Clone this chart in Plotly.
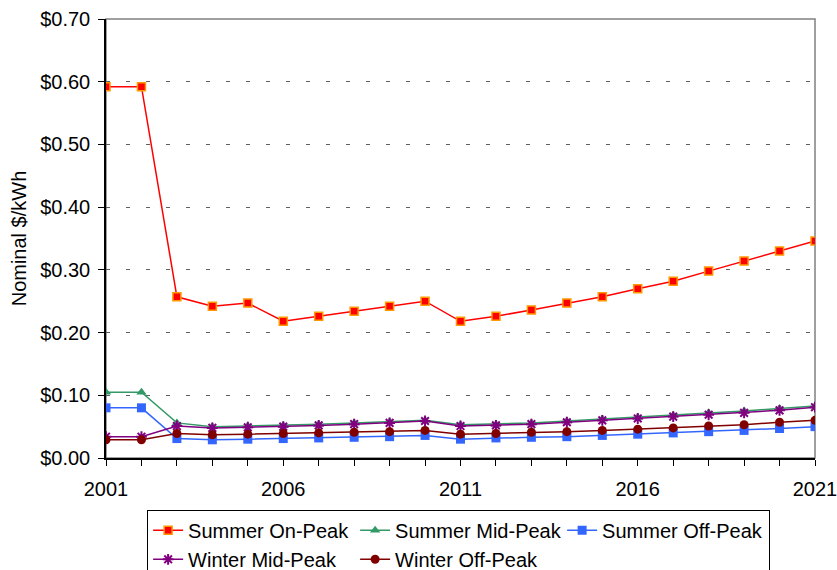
import plotly.graph_objects as go

years = list(range(2001, 2022))
summer_on_peak = [0.592, 0.592, 0.257, 0.242, 0.247, 0.218, 0.226, 0.234, 0.242, 0.250, 0.218,
                  0.226, 0.236, 0.247, 0.257, 0.270, 0.282, 0.298, 0.314, 0.330, 0.346]
summer_mid_peak = [0.105, 0.105, 0.056, 0.050, 0.051, 0.052, 0.054, 0.056, 0.058, 0.060, 0.053,
                   0.054, 0.056, 0.059, 0.062, 0.065, 0.068, 0.072, 0.075, 0.079, 0.083]
summer_off_peak = [0.080, 0.080, 0.031, 0.029, 0.030, 0.031, 0.032, 0.033, 0.034, 0.036, 0.030,
                   0.032, 0.033, 0.034, 0.036, 0.038, 0.040, 0.042, 0.044, 0.047, 0.050]
winter_mid_peak = [0.034, 0.034, 0.051, 0.048, 0.049, 0.050, 0.052, 0.054, 0.056, 0.059, 0.051,
                   0.052, 0.054, 0.057, 0.060, 0.063, 0.066, 0.069, 0.072, 0.076, 0.081]
winter_off_peak = [0.029, 0.029, 0.039, 0.037, 0.038, 0.039, 0.040, 0.041, 0.042, 0.044, 0.038,
                   0.039, 0.041, 0.042, 0.044, 0.046, 0.048, 0.051, 0.053, 0.057, 0.060]
series_names = ["Summer On-Peak", "Summer Mid-Peak", "Summer Off-Peak",
                "Winter Mid-Peak", "Winter Off-Peak"]

FONT = "Liberation Sans, Arial, sans-serif"

styles = [
    dict(line=dict(color="#FF0000", width=1.5),
         marker=dict(symbol="square", size=8, color="#FF0000", line=dict(color="#FF9900", width=1.5))),
    dict(line=dict(color="#339966", width=1.5),
         marker=dict(symbol="triangle-up", size=9, color="#339966")),
    dict(line=dict(color="#3366FF", width=1.5),
         marker=dict(symbol="square", size=9, color="#3366FF")),
    dict(line=dict(color="#800080", width=1.5),
         marker=dict(symbol="asterisk-open", size=9, color="#800080", line=dict(color="#800080", width=2))),
    dict(line=dict(color="#800000", width=1.5),
         marker=dict(symbol="circle", size=9, color="#800000")),
]

data = [summer_on_peak, summer_mid_peak, summer_off_peak, winter_mid_peak, winter_off_peak]

fig = go.Figure()
for name, vals, st in zip(series_names, data, styles):
    fig.add_trace(go.Scatter(x=years, y=vals, name=name, mode="lines+markers",
                             line=st["line"], marker=st["marker"]))

fig.add_shape(type="rect", xref="paper", yref="paper", x0=0, x1=1, y0=0, y1=1,
              line=dict(color="#808080", width=1.5), layer="below")

fig.update_layout(
    width=837, height=570,
    margin=dict(l=106, r=22, t=19, b=112, autoexpand=False),
    paper_bgcolor="white", plot_bgcolor="white",
    font=dict(family=FONT, size=20, color="black"),
    xaxis=dict(range=[2001, 2021], tickmode="linear", tick0=2001, dtick=5,
               showline=True, linecolor="black", linewidth=1.5, automargin=False,
               ticks="outside", ticklen=6, tickcolor="black", tickwidth=1,
               showgrid=False, zeroline=False, ticklabelstandoff=6, ticklabeloverflow="allow",
               minor=dict(dtick=1, ticks="outside", ticklen=6, tickcolor="black", tickwidth=1, showgrid=False)),
    yaxis=dict(range=[0, 0.70], dtick=0.1, tickformat=".2f", tickprefix="$",
               showline=True, linecolor="black", linewidth=1.5, automargin=False,
               ticks="outside", ticklen=6, tickcolor="black", tickwidth=1,
               showgrid=True, gridcolor="#606060", gridwidth=1, griddash="4px,16px",
               zeroline=False, ticklabelstandoff=4, ticklabeloverflow="allow",
               title=dict(text="Nominal $/kWh", standoff=8, font=dict(size=20))),
    legend=dict(orientation="h", x=0.058, xanchor="left", y=-0.118, yanchor="top",
                bgcolor="white", bordercolor="black", borderwidth=1,
                font=dict(size=20), entrywidth=162, tracegroupgap=0),
    showlegend=True,
)

fig.write_html("out.html", config={"displayModeBar": False},
               post_script="document.body.style.margin='0';document.body.style.overflow='hidden';")
